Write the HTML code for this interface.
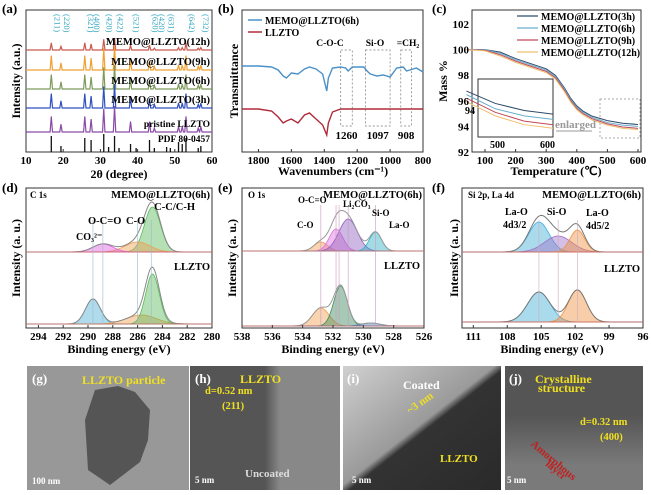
<!DOCTYPE html>
<html><head><meta charset="utf-8"><style>
body{margin:0;background:#fff;width:651px;height:490px;overflow:hidden}
svg{font-family:"Liberation Serif",serif;font-weight:bold}
</style></head><body>
<svg id="fig" width="651" height="490" viewBox="0 0 651 490" xmlns="http://www.w3.org/2000/svg"></svg>
<script>
// ---------- DATA ----------
// (a) XRD
const xrdPeaks=[16.8,19.4,25.8,27.5,30.9,33.8,38.1,43.2,44.5,51.0,52.0,53.0,56.3,57.0];
const xrdHeights=[12,6,12,10,18,20,8,8,3,4,4,12,3,4];
const xrdSeries=["MEMO@LLZTO(12h)","MEMO@LLZTO(9h)","MEMO@LLZTO(6h)","MEMO@LLZTO(3h)","pristine LLZTO"];
const xrdScale=[0.6,1.2,1.2,1.2,1.3];
const pdfPeaks=[16.8,19.4,25.8,27.5,30.9,32.2,33.8,35.0,38.1,39.6,43.2,44.5,47.8,48.8,51.0,52.0,53.0,56.3,57.0];
const pdfHeights=[16,6,14,12,18,5,16,4,8,4,12,4,5,4,10,8,14,4,6];
const millerLabels=["(211)","(220)","(321)","(400)","(420)","(422)","(521)","(620)","(420)","(631)","(642)","(732)"];
const millerPos=[16.8,19.4,25.8,27.5,30.9,33.8,38.1,43.2,45.0,47.5,53.0,56.8];
const xrdTicks=[10,20,30,40,50,60];
// (b) FTIR
const irWn=[1900,1800,1720,1680,1650,1630,1600,1560,1520,1490,1450,1410,1385,1375,1350,1300,1270,1255,1230,1160,1140,1120,1080,1040,1000,960,920,900,880,840,800];
const irBlue=[0,0,1,4,10,12,7,8,3,1,3,8,25,12,2,1,2,5,1,1,5,8,10,9,11,2,1,5,4,2,6];
const irRed=[0,0,2,8,14,12,10,14,6,4,10,16,26,14,3,0,0,0,0,0,0,0,0,0,0,0,0,0,0,0,0];
const irTicks=[1800,1600,1400,1200,1000,800];
const irBands=[[1300,1230,"1260"],[1150,1000,"1097"],[935,870,"908"]];
// (c) TGA
const tgaT=[40,100,150,200,250,300,330,360,380,400,420,450,500,550,600];
const tga3=[100,100,99.8,99.3,98.9,98.5,98.0,97.0,96.2,95.6,95.2,94.8,94.45,94.25,94.15];
const tga6=[100,100,99.7,99.2,98.8,98.4,97.9,96.9,96.1,95.5,95.1,94.7,94.3,94.1,94.0];
const tga9=[100,99.95,99.6,99.1,98.7,98.3,97.8,96.8,96.0,95.4,95.0,94.6,94.2,93.95,93.85];
const tga12=[100,99.9,99.5,99.0,98.6,98.2,97.7,96.7,95.9,95.3,94.9,94.5,94.1,93.85,93.75];
const tgaNames=["MEMO@LLZTO(3h)","MEMO@LLZTO(6h)","MEMO@LLZTO(9h)","MEMO@LLZTO(12h)"];
const tgaXTicks=[100,200,300,400,500,600];
const tgaYTicks=[92,94,96,98,100,102];
// (d) C1s components: center, height, width
const dTopC=[284.8,286.0,288.8];const dTopH=[45,10,8];const dTopW=[0.65,1.0,0.8];
const dBotC=[289.6,285.7,284.8];const dBotH=[25,9,50];const dBotW=[0.6,1.2,0.55];
const dTicks=[294,292,290,288,286,284,282,280];
// (e) O1s
const eTopC=[532.8,531.8,531.0,529.2];const eTopH=[9,22,32,19];const eTopW=[0.45,0.45,0.6,0.4];
const eBotC=[532.8,531.5,529.5];const eBotH=[18,40,3];const eBotW=[0.55,0.45,0.6];
const eTicks=[538,536,534,532,530,528,526];
// (f) Si2p La4d
const fTopC=[105.2,103.5,101.8];const fTopH=[30,16,22];const fTopW=[0.9,1.2,0.65];
const fBotC=[105.2,101.8];const fBotH=[30,32];const fBotW=[1.0,0.8];
const fTicks=[111,108,105,102,99,96];

// ---------- HELPERS ----------
const S=document.getElementById('fig');const NS="http://www.w3.org/2000/svg";
function el(tag,at,txt){const e=document.createElementNS(NS,tag);for(const k in at)e.setAttribute(k,at[k]);if(txt!==undefined)e.textContent=txt;S.appendChild(e);return e;}
function lin(d0,d1,r0,r1){return v=>r0+(v-d0)*(r1-r0)/(d1-d0);}
function txt(x,y,s,size,name,extra){const e=el('text',Object.assign({x:x,y:y,'font-size':size},extra||{}),s);return e;}
function box(x0,y0,x1,y1,name){const e=el('rect',{x:x0,y:y0,width:x1-x0,height:y1-y0,fill:'none',stroke:'#333','stroke-width':1});}
function xticks(ticks,sx,y,name){ticks.forEach(t=>{const l=el('line',{x1:sx(t),x2:sx(t),y1:y,y2:y-3,stroke:'#333'});txt(sx(t),y+12,t,11,name+'-label',{'text-anchor':'middle'});});}
function gauss(x,c,h,w){return h*Math.exp(-0.5*((x-c)/w)**2);}
function xps(C,H,W,sx,base,x0,x1,cols,envCol,pre){
  const N=200;
  C.forEach((c,i)=>{let d=`M${sx(x0)},${base}`;for(let k=0;k<=N;k++){const x=x0+(x1-x0)*k/N;d+=`L${sx(x)},${base-gauss(x,c,H[i],W[i])}`;}d+=`L${sx(x1)},${base}Z`;
    const p=el('path',{d:d,fill:cols[i],'fill-opacity':0.45,stroke:cols[i],'stroke-width':0.8});});
  let d='';for(let k=0;k<=N;k++){const x=x0+(x1-x0)*k/N;let s=0;C.forEach((c,i)=>s+=gauss(x,c,H[i],W[i]));d+=(k?'L':'M')+sx(x)+','+(base-s);}
  const p=el('path',{d:d,fill:'none',stroke:envCol,'stroke-width':1});
  const b=el('line',{x1:sx(x0),x2:sx(x1),y1:base,y2:base,stroke:'#c66','stroke-width':0.8});
}
function vline(x,y0,y1,c,name){const l=el('line',{x1:x,x2:x,y1:y0,y2:y1,stroke:c,'stroke-width':0.6});}

// ---------- (a) ----------
{const sx=lin(10,60,26,212);const bases=[50,70,89,108,132];const cols=['#c9594e','#f0a030','#7d9a5c','#3050c0','#8a4aa8'];
 box(26,10,212,152,'xrd-plot-area');
 xrdSeries.forEach((n,s)=>{let d=`M${sx(10)},${bases[s]}`;xrdPeaks.forEach((p,i)=>{const h=xrdHeights[i]*xrdScale[s];d+=`L${sx(p)-1.2},${bases[s]}L${sx(p)},${bases[s]-h}L${sx(p)+1.2},${bases[s]}`;});d+=`L${sx(60)},${bases[s]}`;
  const p=el('path',{d:d,fill:'none',stroke:cols[s],'stroke-width':1.2});
  txt(210,bases[s]-5,n,s==4?9.5:10.5,'xrd-series-label',{'text-anchor':'end'});});
 pdfPeaks.forEach((p,i)=>{const l=el('line',{x1:sx(p),x2:sx(p),y1:152,y2:152-pdfHeights[i],stroke:'#111','stroke-width':1.3});});
 txt(210,142,'PDF 80-0457',9.5,'pdf-label',{'text-anchor':'end'});
 millerLabels.forEach((m,i)=>{const x=sx(millerPos[i]);txt(x+3,14,m,8.5,'miller-index',{transform:`rotate(90 ${x+3} 14)`,fill:'#38a8c0','font-weight':'normal'});});
 xticks(xrdTicks,sx,152,'xrd-x');
 txt(119,178,'2θ (degree)',12,'xrd-x-title',{'text-anchor':'middle'});
 txt(20,81,'Intensity (a.u.)',12,'xrd-y-title',{'text-anchor':'middle',transform:'rotate(-90 20 81)'});
 txt(2,13,'(a)',13,'panel-a-label');}

// ---------- (b) ----------
{const sx=lin(1900,800,242,423);box(242,10,423,152,'ftir-plot-area');
 const draw=(vals,base,c,n)=>{let d='';irWn.forEach((w,i)=>d+=(i?'L':'M')+sx(w)+','+(base+vals[i]));const p=el('path',{d:d,fill:'none',stroke:c,'stroke-width':1.4});};
 draw(irBlue,66,'#4a90c8','ftir-memo-line');draw(irRed,109,'#b02a3a','ftir-llzto-line');
 irBands.forEach(b=>{const r=el('rect',{x:sx(b[0]),y:50,width:sx(b[1])-sx(b[0]),height:76,fill:'none',stroke:'#777','stroke-dasharray':'2,2','stroke-width':0.7});txt((sx(b[0])+sx(b[1]))/2,139,b[2],11,'band-label',{'text-anchor':'middle'});});
 txt(330,46,'C-O-C',9.5,'coc-label',{'text-anchor':'middle'});txt(375,46,'Si-O',9.5,'sio-label',{'text-anchor':'middle'});txt(408,46,'=CH₂',9.5,'ch2-label',{'text-anchor':'middle'});
 el('line',{x1:248,x2:262,y1:20,y2:20,stroke:'#4a90c8','stroke-width':1.5});txt(265,24,'MEMO@LLZTO(6h)',10,'legend-memo');
 el('line',{x1:248,x2:262,y1:32,y2:32,stroke:'#b02a3a','stroke-width':1.5});txt(265,36,'LLZTO',10,'legend-llzto');
 xticks(irTicks,sx,152,'ftir-x');txt(333,175,'Wavenumbers (cm⁻¹)',12,'ftir-x-title',{'text-anchor':'middle'});
 txt(238,81,'Transmittance',12,'ftir-y-title',{'text-anchor':'middle',transform:'rotate(-90 238 81)'});
 txt(218,13,'(b)',13,'panel-b-label');}

// ---------- (c) ----------
{const sx=lin(100,600,485,638),sy=lin(92,102,152,24);box(472,10,641,152,'tga-plot-area');
 const ix=lin(470,600,478,553),iy=lin(93.7,95.0,130,84);
 const cols=['#2e4a6a','#6aaed0','#c04a5a','#f0c070'];const all=[tga3,tga6,tga9,tga12];
 all.forEach((v,s)=>{let d='';tgaT.forEach((t,i)=>d+=(i?'L':'M')+sx(t)+','+sy(v[i]));const p=el('path',{d:d,fill:'none',stroke:cols[s],'stroke-width':1});
  el('line',{x1:517,x2:538,y1:16+s*12,y2:16+s*12,stroke:cols[s],'stroke-width':1.2});txt(541,20+s*12,tgaNames[s],10,'tga-legend-'+s);});
 const ib=el('rect',{x:478,y:79,width:75,height:58,fill:'#fff',stroke:'#333'});
 all.forEach((v,s)=>{let di='';tgaT.forEach((t,i)=>{if(t>=450)di+=(di?'L':'M')+ix(t)+','+iy(v[i]);});const q=el('path',{d:di,fill:'none',stroke:cols[s],'stroke-width':1});});
 txt(490,148,'500',10,'inset-tick');txt(540,148,'600',10,'inset-tick');txt(465,114,'94',10,'inset-ytick');
 const eb=el('rect',{x:600,y:99,width:40,height:39,fill:'none',stroke:'#aaa','stroke-dasharray':'2,2'});
 txt(555,128,'enlarged',11,'enlarged-label',{fill:'#999'});el('line',{x1:556,x2:592,y1:131,y2:131,stroke:'#999'});
 tgaYTicks.forEach(t=>txt(469,sy(t)+4,t,11,'tga-y-label',{'text-anchor':'end'}));
 xticks(tgaXTicks,sx,152,'tga-x');txt(556,175,'Temperature (℃)',12,'tga-x-title',{'text-anchor':'middle'});
 txt(447,81,'Mass %',12,'tga-y-title',{'text-anchor':'middle',transform:'rotate(-90 447 81)'});
 txt(432,13,'(c)',13,'panel-c-label');}

// ---------- (d) ----------
{const sx=lin(295,280,26,212);box(26,188,212,328,'c1s-plot-area');
 xps(dTopC,dTopH,dTopW,sx,252,295,280,['#5cb85c','#f0a050','#e060e0'],'#888','c1s-top');
 xps(dBotC,dBotH,dBotW,sx,324,295,280,['#50b0d8','#f0a050','#5cb85c'],'#888','c1s-bottom');
 [289.6,288.8,286.0,284.9].forEach(v=>vline(sx(v),220,324,'#9bc','c1s-ref-line'));
 txt(30,198,'C 1s',9,'c1s-core');txt(210,198,'MEMO@LLZTO(6h)',10.5,'c1s-top-sample',{'text-anchor':'end'});
 txt(195,210,'C-C/C-H',10.5,'cc-label',{'text-anchor':'end'});txt(88,224,'O-C=O',10.5,'oco-label');txt(126,224,'C-O',10.5,'co-label');txt(76,240,'CO₃²⁻',10,'co3-label');
 txt(210,270,'LLZTO',10.5,'c1s-bottom-sample',{'text-anchor':'end'});
 xticks(dTicks,sx,328,'c1s-x');txt(119,353,'Binding energy (eV)',12,'c1s-x-title',{'text-anchor':'middle'});
 txt(20,258,'Intensity (a. u.)',12,'c1s-y-title',{'text-anchor':'middle',transform:'rotate(-90 20 258)'});
 txt(2,192,'(d)',13,'panel-d-label');}

// ---------- (e) ----------
{const sx=lin(538,526,242,424);box(242,188,424,328,'o1s-plot-area');
 xps(eTopC,eTopH,eTopW,sx,251,538,526,['#f0a050','#e070e0','#9060c0','#30b0c0'],'#999','o1s-top');
 xps(eBotC,eBotH,eBotW,sx,326,538,526,['#f0a050','#3a8a5a','#4080c0'],'#999','o1s-bottom');
 [532.8,531.8,531.6,531.0,529.2].forEach(v=>vline(sx(v),205,326,'#c9b','o1s-ref-line'));
 txt(248,198,'O 1s',9,'o1s-core');txt(422,198,'MEMO@LLZTO(6h)',10.5,'o1s-top-sample',{'text-anchor':'end'});
 txt(298,203,'O-C=O',9,'oco-label');txt(343,207,'Li₂CO₃',9,'li2co3-label');txt(372,216,'Si-O',9,'sio-label');txt(389,228,'La-O',9,'lao-label');txt(297,228,'C-O',9,'co-label');
 txt(420,269,'LLZTO',10.5,'o1s-bottom-sample',{'text-anchor':'end'});
 xticks(eTicks,sx,328,'o1s-x');txt(333,353,'Binding energy (eV)',12,'o1s-x-title',{'text-anchor':'middle'});
 txt(236,258,'Intensity (a. u.)',12,'o1s-y-title',{'text-anchor':'middle',transform:'rotate(-90 236 258)'});
 txt(218,192,'(e)',13,'panel-e-label');}

// ---------- (f) ----------
{const sx=lin(112,96,462,643);box(462,188,643,328,'si2p-plot-area');
 xps(fTopC,fTopH,fTopW,sx,252,112,96,['#40b0d8','#a070c8','#f09040'],'#777','si2p-top');
 xps(fBotC,fBotH,fBotW,sx,322,112,96,['#40b0d8','#f09040'],'#777','si2p-bottom');
 [105.2,103.5,101.8].forEach(v=>vline(sx(v),220,322,'#cab','si2p-ref-line'));
 txt(468,198,'Si 2p, La 4d',9,'si2p-core');txt(641,198,'MEMO@LLZTO(6h)',10.5,'si2p-top-sample',{'text-anchor':'end'});
 txt(505,215,'La-O',10,'lao-32-label');txt(503,228,'4d3/2',10,'lao-32-sub');txt(547,215,'Si-O',10,'sio-label');txt(586,216,'La-O',10,'lao-52-label');txt(586,229,'4d5/2',10,'lao-52-sub');
 txt(640,272,'LLZTO',10.5,'si2p-bottom-sample',{'text-anchor':'end'});
 xticks(fTicks,sx,328,'si2p-x');txt(552,353,'Binding energy (eV)',12,'si2p-x-title',{'text-anchor':'middle'});
 txt(458,258,'Intensity (a. u.)',12,'si2p-y-title',{'text-anchor':'middle',transform:'rotate(-90 458 258)'});
 txt(432,192,'(f)',13,'panel-f-label');}

// ---------- TEM images ----------
{const defs=el('defs',{});
 defs.innerHTML='<linearGradient id="gi" x1="0" y1="0" x2="1" y2="1"><stop offset="0" stop-color="#d0d0d0"/><stop offset="0.48" stop-color="#9a9a9a"/><stop offset="0.52" stop-color="#333"/><stop offset="1" stop-color="#2a2a2a"/></linearGradient><linearGradient id="gh" x1="0" y1="0" x2="1" y2="0"><stop offset="0.5" stop-color="#555"/><stop offset="0.6" stop-color="#888"/></linearGradient><linearGradient id="gj" x1="0" y1="0" x2="0" y2="1"><stop offset="0.4" stop-color="#555"/><stop offset="0.8" stop-color="#7a7a7a"/></linearGradient>';
 const r=(x,w,f,n)=>{const e=el('rect',{x:x,y:366,width:w,height:124,fill:f});};
 r(27,162,'#989898','tem-image-g');r(190,150,'url(#gh)','tem-image-h');r(343,158,'url(#gi)','tem-image-i');r(505,138,'url(#gj)','tem-image-j');
 const p=el('path',{d:'M95,390 L118,386 L135,392 L150,410 L148,440 L140,462 L110,485 L88,470 L85,420Z',fill:'#555'});
 txt(32,383,'(g)',13,'panel-g-label',{fill:'#fff'});txt(82,384,'LLZTO particle',12,'g-title',{fill:'#f0e020'});
 txt(32,484,'100 nm',9,'scale-g',{fill:'#fff'});
 txt(195,383,'(h)',13,'panel-h-label',{fill:'#fff'});txt(240,383,'LLZTO',12,'h-title',{fill:'#f0e020'});
 txt(205,394,'d=0.52 nm',10.5,'h-spacing',{fill:'#f0e020'});txt(222,409,'(211)',10.5,'h-plane',{fill:'#f0e020'});
 txt(245,477,'Uncoated',11,'h-uncoated',{fill:'#ddd'});txt(195,483,'5 nm',9,'scale-h',{fill:'#fff'});
 txt(347,383,'(i)',13,'panel-i-label',{fill:'#fff'});txt(403,389,'Coated',12,'i-coated',{fill:'#fff'});
 txt(410,414,'~3 nm',11,'i-thickness',{fill:'#f0e020',transform:'rotate(-35 410 414)'});txt(440,462,'LLZTO',11,'i-llzto',{fill:'#f0e020'});txt(352,483,'5 nm',9,'scale-i',{fill:'#fff'});
 txt(509,383,'(j)',13,'panel-j-label',{fill:'#fff'});txt(535,383,'Crystalline',12,'j-title',{fill:'#f0e020'});txt(538,392,'structure',12,'j-title2',{fill:'#f0e020'});
 txt(580,425,'d=0.32 nm',10.5,'j-spacing',{fill:'#f0e020'});txt(600,440,'(400)',10.5,'j-plane',{fill:'#f0e020'});
 txt(530,445,'Amorphous',11,'j-amorphous',{fill:'#c02020',transform:'rotate(40 530 445)'});txt(545,465,'layer',11,'j-layer',{fill:'#c02020',transform:'rotate(40 545 465)'});
 txt(507,483,'5 nm',9,'scale-j',{fill:'#fff'});}
</script>
</body></html>
